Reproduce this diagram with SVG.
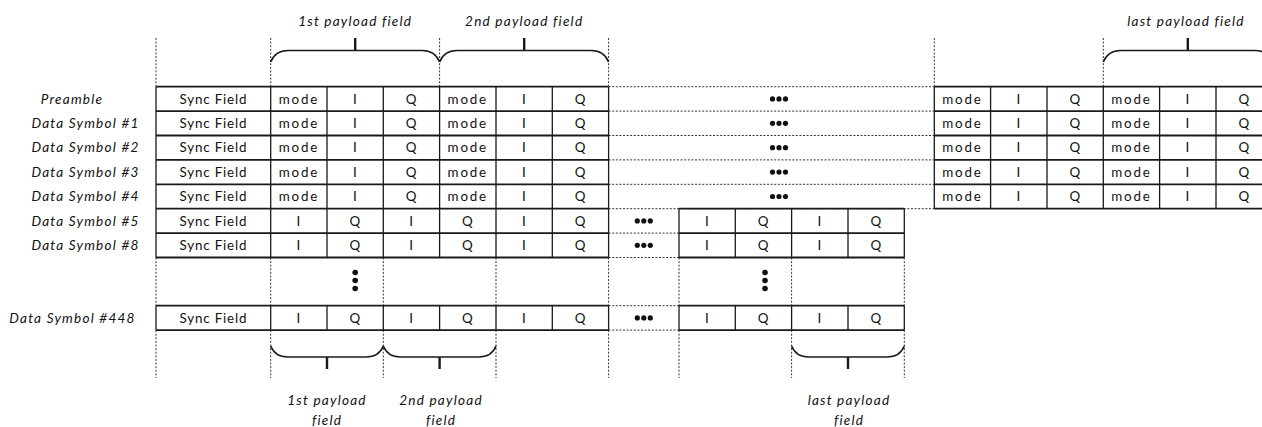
<svg xmlns="http://www.w3.org/2000/svg" width="1262" height="427" viewBox="0 0 1262 427">
<style>
.bg{fill:#fff}
.h{stroke:#1a1a1a;stroke-width:1.8;fill:none}
.v{stroke:#1a1a1a;stroke-width:1.3;fill:none}
.d{stroke:#333;stroke-width:1;stroke-dasharray:2 1.6;fill:none}
.br{stroke:#1a1a1a;stroke-width:1.6;fill:none}
.tk{stroke:#1a1a1a;stroke-width:2.4;fill:none}
.c{font-family:Lato,"Liberation Sans",sans-serif;font-size:13.4px;fill:#111;text-anchor:middle;letter-spacing:0.8px}
.m{letter-spacing:1.8px}
.lb{font-family:Lato,"Liberation Sans",sans-serif;font-size:13.6px;font-style:italic;fill:#111;text-anchor:middle;letter-spacing:1.2px}
.dot{fill:#111}
</style>
<rect class="bg" x="0" y="0" width="1262" height="427"/>

<g id="guides">
  <path class="d" d="M156 38V86.7M270.7 38V86.7M439.6 38V86.7M608.6 38V86.7M934.3 38V86.7M1103.3 38V86.7"/>
  <path class="d" d="M156 257.5V305.7M270.7 257.5V305.7M383.3 257.5V305.7M496 257.5V305.7M608.6 257.5V305.7M679 257.5V305.7M791.6 257.5V305.7M904.3 257.5V305.7"/>
  <path class="d" d="M156 330.1V378M270.7 330.1V378M383.3 330.1V378M496 330.1V378M608.6 330.1V378M679 330.1V378M791.6 330.1V378M904.3 330.1V378"/>
  <path class="d" d="M608.6 86.7H934.3M608.6 111.1H934.3M608.6 135.5H934.3M608.6 159.9H934.3M608.6 184.3H934.3M608.6 208.7H934.3M608.6 233.1H679M608.6 257.5H679M608.6 305.7H679M608.6 330.1H679"/>
</g>

<g id="grid">
  <path class="h" d="M156 86.7H608.6M156 111.1H608.6M156 135.5H608.6M156 159.9H608.6M156 184.3H608.6M156 208.7H608.6M156 233.1H608.6M156 257.5H608.6M156 305.7H608.6M156 330.1H608.6"/>
  <path class="h" d="M934.3 86.7H1272M934.3 111.1H1272M934.3 135.5H1272M934.3 159.9H1272M934.3 184.3H1272M934.3 208.7H1272"/>
  <path class="h" d="M679 208.7H904.3M679 233.1H904.3M679 257.5H904.3M679 305.7H904.3M679 330.1H904.3"/>
  <path class="v" d="M156 86.7V257.5M270.7 86.7V257.5M327 86.7V257.5M383.3 86.7V257.5M439.6 86.7V257.5M496 86.7V257.5M552.3 86.7V257.5M608.6 86.7V257.5"/>
  <path class="v" d="M156 305.7V330.1M270.7 305.7V330.1M327 305.7V330.1M383.3 305.7V330.1M439.6 305.7V330.1M496 305.7V330.1M552.3 305.7V330.1M608.6 305.7V330.1"/>
  <path class="v" d="M934.3 86.7V208.7M990.6 86.7V208.7M1047 86.7V208.7M1103.3 86.7V208.7M1159.6 86.7V208.7M1216 86.7V208.7"/>
  <path class="v" d="M679 208.7V257.5M735.3 208.7V257.5M791.6 208.7V257.5M848 208.7V257.5M904.3 208.7V257.5M679 305.7V330.1M735.3 305.7V330.1M791.6 305.7V330.1M848 305.7V330.1M904.3 305.7V330.1"/>
</g>

<defs>
  <g id="hd"><circle cx="-6.5" cy="0" r="2.6"/><circle cx="0" cy="0" r="2.6"/><circle cx="6.5" cy="0" r="2.6"/></g>
  <g id="vd"><circle cx="0" cy="-8" r="2.8"/><circle cx="0" cy="0" r="2.8"/><circle cx="0" cy="8" r="2.8"/></g>
</defs>

<g id="row-preamble">
  <text class="lb" x="72" y="103.5">Preamble</text>
  <text class="c" x="213.4" y="103.5">Sync Field</text>
  <text class="c m" x="298.9" y="103.5">mode</text><text class="c" x="355.2" y="103.5">I</text><text class="c" x="411.5" y="103.5">Q</text>
  <text class="c m" x="467.8" y="103.5">mode</text><text class="c" x="524.2" y="103.5">I</text><text class="c" x="580.5" y="103.5">Q</text>
  <use href="#hd" class="dot" x="779" y="98.9"/>
  <text class="c m" x="962.5" y="103.5">mode</text><text class="c" x="1018.8" y="103.5">I</text><text class="c" x="1075.2" y="103.5">Q</text>
  <text class="c m" x="1131.5" y="103.5">mode</text><text class="c" x="1187.8" y="103.5">I</text><text class="c" x="1244.2" y="103.5">Q</text>
</g>
<g id="row-ds1">
  <text class="lb" x="85.5" y="127.9">Data Symbol #1</text>
  <text class="c" x="213.4" y="127.9">Sync Field</text>
  <text class="c m" x="298.9" y="127.9">mode</text><text class="c" x="355.2" y="127.9">I</text><text class="c" x="411.5" y="127.9">Q</text>
  <text class="c m" x="467.8" y="127.9">mode</text><text class="c" x="524.2" y="127.9">I</text><text class="c" x="580.5" y="127.9">Q</text>
  <use href="#hd" class="dot" x="779" y="123.3"/>
  <text class="c m" x="962.5" y="127.9">mode</text><text class="c" x="1018.8" y="127.9">I</text><text class="c" x="1075.2" y="127.9">Q</text>
  <text class="c m" x="1131.5" y="127.9">mode</text><text class="c" x="1187.8" y="127.9">I</text><text class="c" x="1244.2" y="127.9">Q</text>
</g>
<g id="row-ds2">
  <text class="lb" x="85.5" y="152.3">Data Symbol #2</text>
  <text class="c" x="213.4" y="152.3">Sync Field</text>
  <text class="c m" x="298.9" y="152.3">mode</text><text class="c" x="355.2" y="152.3">I</text><text class="c" x="411.5" y="152.3">Q</text>
  <text class="c m" x="467.8" y="152.3">mode</text><text class="c" x="524.2" y="152.3">I</text><text class="c" x="580.5" y="152.3">Q</text>
  <use href="#hd" class="dot" x="779" y="147.7"/>
  <text class="c m" x="962.5" y="152.3">mode</text><text class="c" x="1018.8" y="152.3">I</text><text class="c" x="1075.2" y="152.3">Q</text>
  <text class="c m" x="1131.5" y="152.3">mode</text><text class="c" x="1187.8" y="152.3">I</text><text class="c" x="1244.2" y="152.3">Q</text>
</g>
<g id="row-ds3">
  <text class="lb" x="85.5" y="176.7">Data Symbol #3</text>
  <text class="c" x="213.4" y="176.7">Sync Field</text>
  <text class="c m" x="298.9" y="176.7">mode</text><text class="c" x="355.2" y="176.7">I</text><text class="c" x="411.5" y="176.7">Q</text>
  <text class="c m" x="467.8" y="176.7">mode</text><text class="c" x="524.2" y="176.7">I</text><text class="c" x="580.5" y="176.7">Q</text>
  <use href="#hd" class="dot" x="779" y="172.1"/>
  <text class="c m" x="962.5" y="176.7">mode</text><text class="c" x="1018.8" y="176.7">I</text><text class="c" x="1075.2" y="176.7">Q</text>
  <text class="c m" x="1131.5" y="176.7">mode</text><text class="c" x="1187.8" y="176.7">I</text><text class="c" x="1244.2" y="176.7">Q</text>
</g>
<g id="row-ds4">
  <text class="lb" x="85.5" y="201.1">Data Symbol #4</text>
  <text class="c" x="213.4" y="201.1">Sync Field</text>
  <text class="c m" x="298.9" y="201.1">mode</text><text class="c" x="355.2" y="201.1">I</text><text class="c" x="411.5" y="201.1">Q</text>
  <text class="c m" x="467.8" y="201.1">mode</text><text class="c" x="524.2" y="201.1">I</text><text class="c" x="580.5" y="201.1">Q</text>
  <use href="#hd" class="dot" x="779" y="196.5"/>
  <text class="c m" x="962.5" y="201.1">mode</text><text class="c" x="1018.8" y="201.1">I</text><text class="c" x="1075.2" y="201.1">Q</text>
  <text class="c m" x="1131.5" y="201.1">mode</text><text class="c" x="1187.8" y="201.1">I</text><text class="c" x="1244.2" y="201.1">Q</text>
</g>
<g id="row-ds5">
  <text class="lb" x="85.5" y="225.5">Data Symbol #5</text>
  <text class="c" x="213.4" y="225.5">Sync Field</text>
  <text class="c" x="298.9" y="225.5">I</text><text class="c" x="355.2" y="225.5">Q</text><text class="c" x="411.5" y="225.5">I</text>
  <text class="c" x="467.8" y="225.5">Q</text><text class="c" x="524.2" y="225.5">I</text><text class="c" x="580.5" y="225.5">Q</text>
  <use href="#hd" class="dot" x="643.8" y="220.9"/>
  <text class="c" x="707.2" y="225.5">I</text><text class="c" x="763.5" y="225.5">Q</text><text class="c" x="819.8" y="225.5">I</text><text class="c" x="876.2" y="225.5">Q</text>
</g>
<g id="row-ds8">
  <text class="lb" x="85.5" y="249.9">Data Symbol #8</text>
  <text class="c" x="213.4" y="249.9">Sync Field</text>
  <text class="c" x="298.9" y="249.9">I</text><text class="c" x="355.2" y="249.9">Q</text><text class="c" x="411.5" y="249.9">I</text>
  <text class="c" x="467.8" y="249.9">Q</text><text class="c" x="524.2" y="249.9">I</text><text class="c" x="580.5" y="249.9">Q</text>
  <use href="#hd" class="dot" x="643.8" y="245.3"/>
  <text class="c" x="707.2" y="249.9">I</text><text class="c" x="763.5" y="249.9">Q</text><text class="c" x="819.8" y="249.9">I</text><text class="c" x="876.2" y="249.9">Q</text>
</g>
<g id="vdots">
  <use href="#vd" class="dot" x="355.2" y="280.5"/>
  <use href="#vd" class="dot" x="765" y="280.5"/>
</g>
<g id="row-ds448">
  <text class="lb" x="72.5" y="322.5">Data Symbol #448</text>
  <text class="c" x="213.4" y="322.5">Sync Field</text>
  <text class="c" x="298.9" y="322.5">I</text><text class="c" x="355.2" y="322.5">Q</text><text class="c" x="411.5" y="322.5">I</text>
  <text class="c" x="467.8" y="322.5">Q</text><text class="c" x="524.2" y="322.5">I</text><text class="c" x="580.5" y="322.5">Q</text>
  <use href="#hd" class="dot" x="643.8" y="317.9"/>
  <text class="c" x="707.2" y="322.5">I</text><text class="c" x="763.5" y="322.5">Q</text><text class="c" x="819.8" y="322.5">I</text><text class="c" x="876.2" y="322.5">Q</text>
</g>

<g id="brace-top-1">
  <path class="br" d="M270.7 62C273.5 55 279 50.5 288 50.5H422.3C431.3 50.5 436.8 55 439.6 62"/>
  <path class="tk" d="M355.2 38V50.5"/>
  <text class="lb" x="355.2" y="26">1st payload field</text>
</g>
<g id="brace-top-2">
  <path class="br" d="M439.6 62C442.4 55 447.9 50.5 456.9 50.5H591.3C600.3 50.5 605.8 55 608.6 62"/>
  <path class="tk" d="M524.2 38V50.5"/>
  <text class="lb" x="524.2" y="26">2nd payload field</text>
</g>
<g id="brace-top-last">
  <path class="br" d="M1103.3 62C1106.1 55 1111.6 50.5 1120.6 50.5H1254.7C1263.7 50.5 1269.2 55 1272 62"/>
  <path class="tk" d="M1187.8 38V50.5"/>
  <text class="lb" x="1186" y="26">last payload field</text>
</g>
<g id="brace-bot-1">
  <path class="br" d="M270.7 346C273.5 353 279 357 288 357H366C375 357 380.5 353 383.3 346"/>
  <path class="tk" d="M327 357V369"/>
  <text class="lb" x="327" y="405">1st payload</text>
  <text class="lb" x="327" y="425">field</text>
</g>
<g id="brace-bot-2">
  <path class="br" d="M383.3 346C386.1 353 391.6 357 400.6 357H478.7C487.7 357 493.2 353 496 346"/>
  <path class="tk" d="M439.6 357V369"/>
  <text class="lb" x="441" y="405">2nd payload</text>
  <text class="lb" x="441" y="425">field</text>
</g>
<g id="brace-bot-last">
  <path class="br" d="M791.6 346C794.4 353 799.9 357 808.9 357H887C896 357 901.5 353 904.3 346"/>
  <path class="tk" d="M848 357V369"/>
  <text class="lb" x="849" y="405">last payload</text>
  <text class="lb" x="849" y="425">field</text>
</g>
</svg>
